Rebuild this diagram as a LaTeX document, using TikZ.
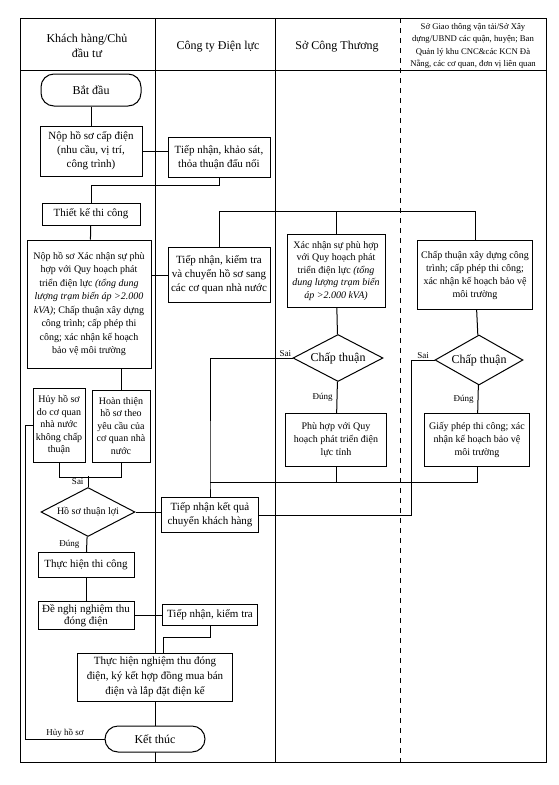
\documentclass[tikz,border=0pt]{standalone}
\usepackage{fontspec}
\setmainfont{Liberation Serif}
\usepackage{tikz}
\usetikzlibrary{shapes.geometric, positioning, calc}

\begin{document}
\begin{tikzpicture}[
    x=1pt, y=-1pt,
    lane/.style={line width=1pt},
    box/.style={rectangle, draw, fill=white, line width=1pt,
                align=center, inner sep=1pt,
                font=\fontsize{10}{12.5}\selectfont},
    term/.style={rectangle, rounded corners=13pt, draw, fill=white,
                line width=1pt, minimum width=100pt,
                font=\fontsize{12}{14}\selectfont},
    gate/.style={diamond, draw, fill=white, line width=1pt,
                aspect=2, inner sep=0pt},
    head/.style={align=center, font=\fontsize{12}{15}\selectfont},
    tag/.style={font=\fontsize{9}{10}\selectfont, inner sep=1pt},
    link/.style={line width=1pt}
]
    \useasboundingbox (0,0) rectangle (558,785);

    % Frame and lanes
    \draw[lane] (20,18) rectangle (546,762);
    \draw[lane] (20,70) -- (546,70);
    \draw[lane] (155,18) -- (155,762);
    \draw[lane] (275,18) -- (275,762);
    \draw[lane, dash pattern=on 5pt off 5pt] (400,18) -- (400,762);

    % Lane headers
    \node[head] (h-cust) at (87,46) {Khách hàng/Chủ\\đầu tư};
    \node[head] (h-evn) at (218,47) {Công ty Điện lực};
    \node[head] (h-doit) at (337,47) {Sở Công Thương};
    \node[head, font=\fontsize{8.7}{12.5}\selectfont] (h-agency) at (473,46)
        {Sở Giao thông vận tải/Sở Xây\\dựng/UBND các quận, huyện; Ban\\Quản lý khu CNC\&các KCN Đà\\Nẵng, các cơ quan, đơn vị liên quan};

    % Customer lane - first part
    \node[term, minimum height=32pt] (start) at (91,90) {Bắt đầu};
    \node[box, below=19pt of start, font=\fontsize{11}{14}\selectfont,
          minimum width=102pt, minimum height=50pt] (apply)
        {Nộp hồ sơ cấp điện\\(nhu cầu, vị trí,\\công trình)};
    \node[box, below=26pt of apply, font=\fontsize{11}{13}\selectfont,
          minimum width=98pt, minimum height=22pt] (design) {Thiết kế thi công};
    \node[box, minimum width=124pt, minimum height=128pt,
          font=\fontsize{10}{13.5}\selectfont] (dossier) at (89,304)
        {Nộp hồ sơ Xác nhận sự phù\\hợp với Quy hoạch phát\\triển điện lực \textit{(tổng dung}\\\textit{lượng trạm biến áp >2.000}\\\textit{kVA)}; Chấp thuận xây dựng\\công trình; cấp phép thi\\công; xác nhận kế hoạch\\bảo vệ môi trường};
    \node[box, minimum width=52pt, minimum height=74pt] (cancel) at (59,425)
        {Hủy hồ sơ\\do cơ quan\\nhà nước\\không chấp\\thuận};
    \node[box, minimum width=58pt, minimum height=72pt] (revise) at (121,426)
        {Hoàn thiện\\hồ sơ theo\\yêu cầu của\\cơ quan nhà\\nước};
    \node[gate, minimum width=94pt, minimum height=49pt,
          font=\fontsize{10}{12}\selectfont] (valid) at (88,512) {Hồ sơ thuận lợi};

    % Customer lane - second part
    \node[box, minimum width=96pt, minimum height=25pt,
          font=\fontsize{11}{13}\selectfont] (build) at (86,565) {Thực hiện thi công};
    \node[box, below=23pt of build, minimum width=96pt, minimum height=28pt,
          font=\fontsize{11}{12}\selectfont] (request) {Đề nghị nghiệm thu\\đóng điện};
    \node[box, minimum width=155pt, minimum height=48pt,
          font=\fontsize{11}{15}\selectfont] (accept) at (155,677)
        {Thực hiện nghiệm thu đóng\\điện, ký kết hợp đồng mua bán\\điện và lắp đặt điện kế};
    \node[term, minimum height=26pt] (finish) at (155,739) {Kết thúc};

    % Power company lane
    \node[box, minimum width=102pt, minimum height=40pt,
          font=\fontsize{11}{14}\selectfont] (survey) at (219,157)
        {Tiếp nhận, khảo sát,\\thỏa thuận đấu nối};
    \node[box, minimum width=102pt, minimum height=55pt,
          font=\fontsize{11}{14}\selectfont] (forward) at (219,275)
        {Tiếp nhận, kiểm tra\\và chuyển hồ sơ sang\\các cơ quan nhà nước};
    \node[box, minimum width=97pt, minimum height=35pt,
          font=\fontsize{11}{14}\selectfont] (result) at (210,515)
        {Tiếp nhận kết quả\\chuyển khách hàng};
    \node[box, minimum width=95pt, minimum height=21pt,
          font=\fontsize{11}{13}\selectfont] (check) at (210,615) {Tiếp nhận, kiểm tra};

    % Department of Industry and Trade lane
    \node[box, minimum width=98pt, minimum height=73pt] (confirm) at (336,271)
        {Xác nhận sự phù hợp\\với Quy hoạch phát\\triển điện lực \textit{(tổng}\\\textit{dung lượng trạm biến}\\\textit{áp >2.000 kVA)}};
    \node[gate, minimum width=90pt, minimum height=47pt,
          font=\fontsize{12}{14}\selectfont] (okA) at (338,358) {Chấp thuận};
    \node[box, minimum width=101pt, minimum height=53pt,
          font=\fontsize{10}{13}\selectfont] (planok) at (336,440)
        {Phù hợp với Quy\\hoạch phát triển điện\\lực tỉnh};

    % Other agencies lane
    \node[box, minimum width=115pt, minimum height=69pt,
          font=\fontsize{10}{13}\selectfont] (permit) at (475,275)
        {Chấp thuận xây dựng công\\trình; cấp phép thi công;\\xác nhận kế hoạch bảo vệ\\môi trường};
    \node[gate, minimum width=88pt, minimum height=50pt,
          font=\fontsize{12}{14}\selectfont] (okB) at (479,360) {Chấp thuận};
    \node[box, minimum width=105pt, minimum height=53pt,
          font=\fontsize{10}{13}\selectfont] (license) at (477,440)
        {Giấy phép thi công; xác\\nhận kế hoạch bảo vệ\\môi trường};

    \coordinate (fork) at (219,211);
    \coordinate (join) at (210,482);

    % Connectors
    \draw[link] (start) -- (apply);
    \draw[link] (apply.east) -- (apply.east -| survey.west);
    \draw[link] (survey.south) -- ++(0,8) -| (design.north);
    \draw[link] (design) -- (dossier);
    \draw[link] (forward.west -| dossier.east) -- (forward.west);

    \draw[link] (forward.north) -- (fork) -| (permit.north);
    \draw[link] (fork -| confirm.north) -- (confirm.north);
    \draw[link] (confirm) -- (okA);
    \draw[link] (permit) -- (okB);
    \draw[link] (okA) -- node[tag, left=3pt] {Đúng} (planok);
    \draw[link] (okB) -- node[tag, left=3pt] {Đúng} (license);

    \draw[link] (okA.west) -- node[tag, above left, pos=0] {Sai} (okA.west -| join) -- (join) -- (result.north);
    \draw[link] (planok.south) -- (planok.south |- join);
    \draw[link] (license.south) |- (join);
    \draw[link] (okB.west) -- node[tag, above] {Sai} ++(-23,0) |- (result.east);

    \draw[link] (revise.north) -- (revise.north |- dossier.south);
    \draw[link] (cancel.south) -- ++(0,15) -| (revise.south);
    \draw[link] (valid.north) -- node[tag, left=3pt] {Sai} ++(0,-11);
    \draw[link] (valid.east) -- (valid.east -| result.west);
    \draw[link] (cancel.west) -- ++(-7,0) |- node[tag, above, pos=0.75] {Hủy hồ sơ} (finish.west);

    \draw[link] (valid) -- node[tag, left=6pt] {Đúng} (build);
    \draw[link] (build) -- (request);
    \draw[link] (request.east) -- (request.east -| check.west);
    \draw[link] (check.south) -- ++(0,11) -| ([xshift=8pt]accept.north);
    \draw[link] (accept) -- (finish);
\end{tikzpicture}
\end{document}
